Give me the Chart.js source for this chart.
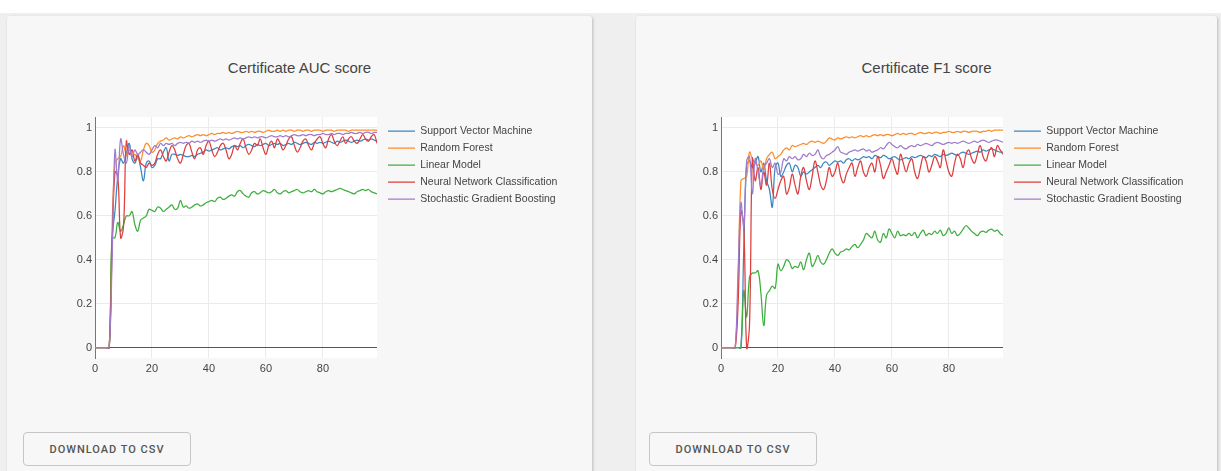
<!DOCTYPE html>
<html>
<head>
<meta charset="utf-8">
<title>Certificate scores</title>
<script src="https://cdn.jsdelivr.net/npm/chart.js@4.4.1/dist/chart.umd.min.js"></script>
<style>
  html, body { margin: 0; padding: 0; width: 1221px; height: 471px; overflow: hidden; background: #fff;
               font-family: "Liberation Sans", Arial, sans-serif; }
  .page { position: absolute; left: 0; top: 13px; width: 1221px; height: 458px; background: #efefef; }
  .card { position: absolute; top: 16px; height: 470px; background: #f7f7f7; border-radius: 3px;
          box-shadow: 1px 1px 3px rgba(0,0,0,0.22); }
  .title { position: absolute; top: 59px; height: 18px; line-height: 18px; text-align: center;
           font-size: 15px; color: #444; }
  .plot { position: absolute; top: 100px; }
  .btn { position: absolute; top: 432px; width: 168px; height: 34px; box-sizing: border-box;
         border: 1px solid #c6c6c6; border-radius: 4px; background: #f7f7f7; color: #555;
         font-family: Roboto, "Liberation Sans", Arial, sans-serif; font-weight: 500; font-size: 11px;
         letter-spacing: 1px; padding: 0; cursor: pointer; }
</style>
</head>
<body>
<div class="page"></div>
<div class="card" style="left:7px;width:585px;"></div>
<div class="card" style="left:636px;width:581px;"></div>

<div class="title" style="left:7px;width:585px;">Certificate AUC score</div>
<div class="title" style="left:636px;width:581px;">Certificate F1 score</div>

<canvas id="aucChart" class="plot" width="530" height="285" style="left:40px;"></canvas>
<canvas id="f1Chart" class="plot" width="530" height="285" style="left:666px;"></canvas>

<button class="btn" style="left:23px;">DOWNLOAD TO CSV</button>
<button class="btn" style="left:649px;">DOWNLOAD TO CSV</button>

<script>
// Model names, in legend order
const modelNames = [
  'Support Vector Machine',
  'Random Forest',
  'Linear Model',
  'Neural Network Classification',
  'Stochastic Gradient Boosting'
];

// Axis tick values
const xTicks = [0, 20, 40, 60, 80];
const yTicks = [0, 0.2, 0.4, 0.6, 0.8, 1];

// AUC score per step (steps 0..99)
const aucSvm = [
  0,0,0,0,0,0,0.5,0.62,0.78,0.86,
  0.84,0.88,0.93,0.86,0.84,0.87,0.82,0.76,0.84,0.85,
  0.82,0.83,0.86,0.86,0.89,0.91,0.85,0.88,0.88,0.875,
  0.88,0.875,0.87,0.87,0.875,0.87,0.88,0.885,0.89,0.9,
  0.895,0.9,0.905,0.91,0.9,0.905,0.91,0.905,0.915,0.92,
  0.915,0.92,0.91,0.92,0.925,0.92,0.915,0.925,0.92,0.925,
  0.93,0.92,0.925,0.93,0.925,0.93,0.92,0.925,0.93,0.925,
  0.935,0.93,0.925,0.93,0.935,0.93,0.925,0.935,0.93,0.935,
  0.93,0.935,0.94,0.935,0.93,0.94,0.935,0.94,0.945,0.94,
  0.935,0.94,0.945,0.94,0.945,0.95,0.945,0.95,0.945,0.94
];
const aucRf = [
  0,0,0,0,0,0,0.55,0.84,0.86,0.87,
  0.92,0.88,0.9,0.87,0.88,0.86,0.85,0.9,0.93,0.92,
  0.89,0.9,0.93,0.94,0.945,0.955,0.945,0.95,0.955,0.95,
  0.96,0.955,0.96,0.965,0.96,0.965,0.97,0.965,0.97,0.965,
  0.97,0.975,0.97,0.975,0.975,0.98,0.975,0.98,0.975,0.98,
  0.985,0.98,0.98,0.985,0.98,0.985,0.98,0.985,0.985,0.98,
  0.985,0.99,0.985,0.985,0.99,0.985,0.99,0.985,0.99,0.99,
  0.985,0.99,0.99,0.985,0.99,0.99,0.985,0.99,0.99,0.99,
  0.985,0.99,0.99,0.99,0.985,0.99,0.99,0.99,0.99,0.985,
  0.99,0.99,0.99,0.99,0.99,0.99,0.99,0.99,0.99,0.99
];
const aucLm = [
  0,0,0,0,0,0,0.5,0.5,0.57,0.53,
  0.56,0.6,0.6,0.62,0.56,0.53,0.58,0.59,0.6,0.63,
  0.625,0.62,0.64,0.635,0.62,0.63,0.64,0.65,0.63,0.635,
  0.67,0.64,0.645,0.635,0.64,0.65,0.655,0.645,0.65,0.66,
  0.665,0.67,0.665,0.68,0.685,0.675,0.68,0.69,0.695,0.69,
  0.71,0.715,0.7,0.69,0.685,0.705,0.71,0.7,0.705,0.715,
  0.71,0.705,0.71,0.72,0.705,0.7,0.71,0.715,0.705,0.71,
  0.715,0.72,0.71,0.705,0.71,0.715,0.71,0.72,0.71,0.705,
  0.7,0.71,0.715,0.71,0.715,0.72,0.725,0.72,0.715,0.71,
  0.705,0.7,0.71,0.715,0.72,0.715,0.72,0.71,0.705,0.7
];
const aucNn = [
  0,0,0,0,0,0,0.45,0.8,0.78,0.5,
  0.55,0.94,0.88,0.9,0.85,0.88,0.84,0.83,0.82,0.84,
  0.83,0.84,0.88,0.9,0.87,0.85,0.89,0.92,0.9,0.86,
  0.84,0.88,0.92,0.93,0.89,0.86,0.9,0.91,0.88,0.92,
  0.94,0.9,0.87,0.89,0.92,0.93,0.9,0.86,0.88,0.92,
  0.9,0.93,0.95,0.91,0.88,0.9,0.93,0.92,0.95,0.91,
  0.88,0.92,0.94,0.91,0.95,0.93,0.9,0.92,0.95,0.96,
  0.92,0.89,0.91,0.94,0.95,0.92,0.9,0.93,0.95,0.96,
  0.93,0.91,0.95,0.97,0.94,0.92,0.94,0.96,0.93,0.95,
  0.96,0.94,0.93,0.95,0.97,0.95,0.94,0.96,0.97,0.93
];
const aucSgb = [
  0,0,0,0,0,0,0.4,0.9,0.76,0.95,
  0.88,0.84,0.92,0.87,0.9,0.88,0.89,0.9,0.89,0.88,
  0.9,0.92,0.91,0.93,0.92,0.93,0.925,0.93,0.92,0.93,
  0.935,0.93,0.935,0.93,0.94,0.935,0.94,0.935,0.94,0.945,
  0.94,0.945,0.94,0.945,0.95,0.945,0.95,0.945,0.95,0.955,
  0.95,0.955,0.95,0.955,0.96,0.955,0.96,0.955,0.96,0.96,
  0.955,0.96,0.965,0.96,0.96,0.965,0.96,0.965,0.96,0.965,
  0.97,0.965,0.965,0.97,0.965,0.97,0.97,0.965,0.97,0.97,
  0.975,0.97,0.97,0.975,0.97,0.975,0.975,0.97,0.975,0.975,
  0.98,0.975,0.975,0.98,0.975,0.98,0.98,0.975,0.98,0.98
];

// F1 score per step (steps 0..99)
const f1Svm = [
  0,0,0,0,0,0,0,0,0.45,0.83,
  0.85,0.82,0.84,0.87,0.8,0.84,0.76,0.72,0.64,0.82,
  0.84,0.78,0.8,0.83,0.84,0.8,0.83,0.82,0.78,0.8,
  0.79,0.8,0.81,0.82,0.83,0.82,0.84,0.845,0.83,0.84,
  0.85,0.845,0.85,0.84,0.855,0.86,0.85,0.86,0.855,0.86,
  0.87,0.865,0.87,0.86,0.875,0.87,0.865,0.875,0.87,0.86,
  0.865,0.87,0.86,0.855,0.86,0.865,0.86,0.87,0.865,0.87,
  0.875,0.87,0.865,0.875,0.87,0.88,0.875,0.87,0.88,0.875,
  0.88,0.885,0.88,0.875,0.885,0.89,0.885,0.88,0.885,0.89,
  0.895,0.89,0.9,0.895,0.9,0.905,0.9,0.895,0.89,0.89
];
const f1Rf = [
  0,0,0,0,0,0,0.3,0.76,0.77,0.78,
  0.89,0.86,0.84,0.83,0.85,0.81,0.86,0.88,0.89,0.86,
  0.87,0.88,0.9,0.91,0.9,0.92,0.915,0.92,0.925,0.93,
  0.925,0.935,0.94,0.935,0.94,0.935,0.93,0.94,0.955,0.95,
  0.945,0.955,0.95,0.955,0.96,0.955,0.96,0.955,0.96,0.965,
  0.96,0.965,0.96,0.965,0.97,0.965,0.97,0.965,0.97,0.97,
  0.965,0.97,0.975,0.97,0.975,0.97,0.975,0.975,0.97,0.975,
  0.98,0.975,0.975,0.98,0.975,0.98,0.98,0.975,0.98,0.98,
  0.985,0.98,0.98,0.985,0.98,0.985,0.985,0.98,0.985,0.985,
  0.985,0.98,0.985,0.985,0.99,0.985,0.99,0.99,0.99,0.99
];
const f1Lm = [
  0,0,0,0,0,0,0,0,0.26,0.14,
  0.32,0.34,0.34,0.35,0.25,0.1,0.24,0.26,0.28,0.27,
  0.38,0.35,0.37,0.4,0.39,0.36,0.37,0.365,0.39,0.355,
  0.4,0.43,0.37,0.39,0.42,0.39,0.38,0.4,0.43,0.45,
  0.43,0.42,0.435,0.44,0.45,0.445,0.46,0.47,0.455,0.47,
  0.49,0.52,0.51,0.5,0.53,0.49,0.48,0.52,0.5,0.54,
  0.52,0.5,0.53,0.51,0.515,0.51,0.52,0.51,0.525,0.5,
  0.52,0.535,0.51,0.52,0.515,0.53,0.52,0.535,0.51,0.52,
  0.545,0.52,0.53,0.51,0.52,0.54,0.555,0.545,0.53,0.52,
  0.51,0.525,0.53,0.525,0.535,0.54,0.53,0.535,0.52,0.51
];
const f1Nn = [
  0,0,0,0,0,0,0.2,0.62,0.55,0,
  0.1,0.86,0.76,0.82,0.72,0.8,0.74,0.84,0.72,0.68,
  0.72,0.76,0.78,0.7,0.73,0.79,0.74,0.7,0.78,0.82,
  0.76,0.72,0.78,0.85,0.8,0.74,0.72,0.76,0.82,0.78,
  0.8,0.84,0.78,0.75,0.79,0.82,0.84,0.78,0.82,0.85,
  0.8,0.78,0.82,0.84,0.8,0.87,0.83,0.77,0.8,0.83,
  0.86,0.82,0.79,0.88,0.84,0.8,0.84,0.86,0.8,0.77,
  0.82,0.87,0.85,0.8,0.83,0.87,0.85,0.82,0.9,0.85,
  0.8,0.78,0.84,0.88,0.86,0.82,0.88,0.9,0.86,0.84,
  0.88,0.92,0.87,0.85,0.89,0.91,0.87,0.92,0.9,0.88
];
const f1Sgb = [
  0,0,0,0,0,0,0.35,0.66,0.55,0.85,
  0.87,0.7,0.86,0.8,0.74,0.82,0.84,0.86,0.82,0.84,
  0.79,0.8,0.86,0.85,0.87,0.86,0.87,0.855,0.86,0.88,
  0.87,0.885,0.875,0.88,0.9,0.87,0.86,0.875,0.88,0.89,
  0.9,0.915,0.89,0.885,0.88,0.89,0.895,0.9,0.895,0.9,
  0.905,0.895,0.9,0.89,0.895,0.9,0.91,0.905,0.92,0.935,
  0.925,0.915,0.91,0.92,0.91,0.905,0.915,0.92,0.915,0.925,
  0.92,0.925,0.93,0.925,0.92,0.93,0.935,0.93,0.925,0.93,
  0.935,0.93,0.935,0.93,0.935,0.94,0.935,0.93,0.935,0.94,
  0.935,0.94,0.945,0.94,0.935,0.94,0.945,0.945,0.94,0.935
];

// Line colours, one per model
const modelColors = ['#3a87c0', '#ff8c2a', '#3fae3f', '#dd3e3f', '#a07ccb'];

Chart.defaults.font.family = '"Liberation Sans", Arial, sans-serif';
Chart.defaults.color = '#444';

// White plotting area on the grey card
const plotBackground = {
  id: 'plotBackground',
  beforeDraw(chart) {
    const { ctx, chartArea: a } = chart;
    ctx.save();
    ctx.fillStyle = '#ffffff';
    ctx.fillRect(a.left, a.top, a.right - a.left, a.bottom - a.top);
    ctx.restore();
  }
};

// Places the legend a fixed distance from the plotting area, wide enough for its labels
const legendOffset = {
  id: 'legendOffset',
  afterLayout(chart, args, opts) {
    const lg = chart.legend, a = chart.chartArea;
    if (!lg) return;
    const dy = a.top + opts.dy - lg.top;
    lg.left = a.right + opts.dx;
    lg.width = opts.width;
    lg.right = lg.left + opts.width;
    lg.top += dy;
    lg.bottom += dy;
  }
};

function toPoints(values) {
  return values.map((v, i) => ({ x: i, y: v }));
}

function buildChart(canvasId, seriesList) {
  const n = seriesList.length;
  const datasets = seriesList.map((values, i) => ({
    label: modelNames[i],
    data: toPoints(values),
    borderColor: modelColors[i],
    backgroundColor: modelColors[i],
    borderWidth: 1.25,
    pointRadius: 0,
    pointHoverRadius: 0,
    tension: 0.4,
    fill: false,
    order: n - 1 - i
  }));

  return new Chart(document.getElementById(canvasId), {
    type: 'line',
    data: { datasets },
    plugins: [plotBackground, legendOffset],
    options: {
      responsive: false,
      animation: false,
      events: [],
      layout: { padding: { left: 0, top: 17, right: 43, bottom: 0 } },
      scales: {
        x: {
          type: 'linear',
          min: 0,
          max: 99,
          afterFit(scale) { scale.height = 27; },
          afterBuildTicks(scale) { scale.ticks = xTicks.map(v => ({ value: v })); },
          ticks: { padding: 4, font: { size: 11 }, color: '#444', maxRotation: 0,
                   callback: v => String(v) },
          grid: {
            drawTicks: false,
            lineWidth: 1,
            color: c => (c.tick && c.tick.value === 0) ? 'rgba(0,0,0,0)' : '#ebebeb'
          },
          border: { display: false }
        },
        y: {
          type: 'linear',
          min: -0.047,
          max: 1.05,
          afterFit(scale) { scale.width = 55; },
          afterBuildTicks(scale) { scale.ticks = yTicks.map(v => ({ value: v })); },
          ticks: { padding: 3, font: { size: 11 }, color: '#444', callback: v => String(v) },
          grid: {
            drawTicks: false,
            lineWidth: 1,
            color: c => (c.tick && c.tick.value === 0) ? '#555' : '#ebebeb'
          },
          border: { display: true, color: '#777', width: 1 }
        }
      },
      plugins: {
        title: { display: false },
        tooltip: { enabled: false },
        legendOffset: { dx: 4.5, dy: 2.3, width: 190 },
        legend: {
          display: true,
          position: 'right',
          align: 'start',
          maxWidth: 150,
          labels: {
            usePointStyle: true,
            pointStyle: 'line',
            pointStyleWidth: 27,
            boxHeight: 10.5,
            padding: 6.5,
            color: '#444',
            font: { size: 10.5 },
            sort: (a, b) => a.datasetIndex - b.datasetIndex
          }
        }
      }
    }
  });
}

buildChart('aucChart', [aucSvm, aucRf, aucLm, aucNn, aucSgb]);
buildChart('f1Chart', [f1Svm, f1Rf, f1Lm, f1Nn, f1Sgb]);
</script>
</body>
</html>
